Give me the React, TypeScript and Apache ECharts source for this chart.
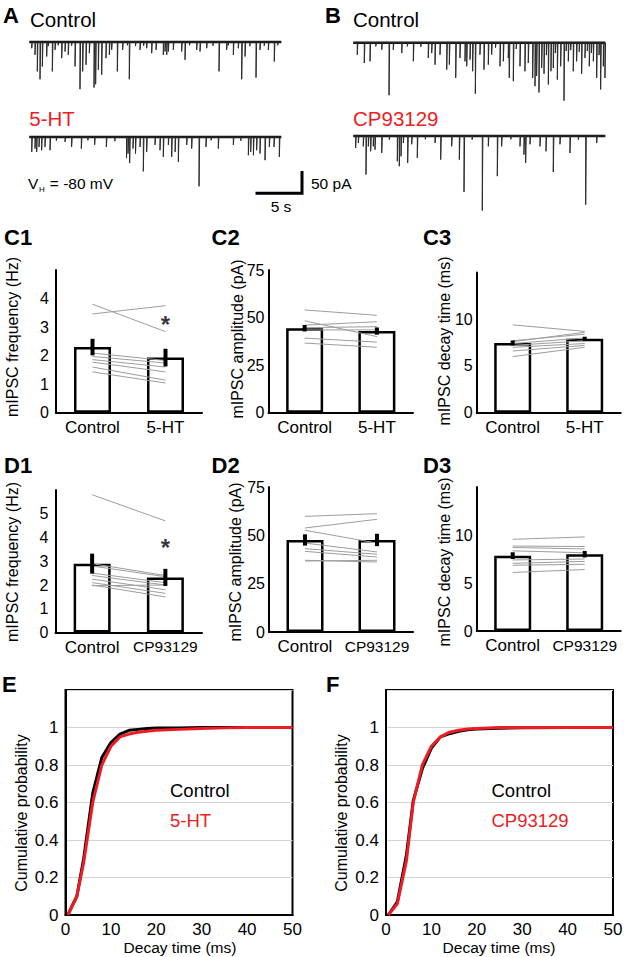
import React, { useEffect, useRef } from "react";
import * as echarts from "echarts";

const FONT = "'Liberation Sans', Arial, Helvetica, sans-serif";
const RED = "#ed1c24";

// ---------- Traces: spikes as [time (s), amplitude (pA)] ----------
const traceDuration = 28;
const spikesA1: number[][] = [
  [0.27, 15], [0.63, 31], [0.89, 71], [1.19, 90], [1.45, 59], [1.93, 35], [2.1, 10], [2.56, 71], [2.86, 19],
  [3.2, 8], [3.6, 39], [3.97, 23], [4.33, 31], [4.7, 9], [5.08, 59], [5.63, 114], [5.93, 71], [6.3, 55],
  [6.67, 27], [7.19, 110], [7.37, 102], [7.67, 67], [8.04, 79], [8.52, 39], [8.89, 31], [9.15, 19],
  [9.78, 71], [10.37, 19], [10.9, 8], [11.11, 90], [11.8, 10], [12.3, 19], [12.7, 9], [13.04, 15],
  [13.6, 27], [14.08, 19], [14.89, 31], [15.08, 23], [15.27, 31], [15.45, 23], [16.0, 19], [16.93, 23],
  [17.3, 43], [17.8, 8], [18.6, 19], [18.97, 23], [19.71, 15], [20.4, 9], [21.08, 71], [21.93, 19],
  [22.1, 8], [22.67, 31], [23.22, 15], [23.6, 90], [23.97, 35], [24.5, 10], [25.19, 86], [25.63, 19],
  [26.1, 9], [26.56, 19], [27.22, 47], [27.6, 8],
];
const spikesA2: number[][] = [
  [0.27, 36], [0.63, 28], [0.82, 36], [1.08, 24], [1.37, 32], [1.74, 24], [2.3, 32], [3.0, 9], [3.97, 12],
  [4.7, 24], [5.78, 28], [6.5, 8], [7.26, 19], [8.56, 24], [9.5, 10], [10.8, 51], [10.97, 40], [11.15, 63],
  [11.52, 28], [11.8, 40], [12.3, 24], [12.67, 83], [13.04, 36], [13.97, 19], [14.52, 32], [14.89, 48],
  [15.45, 19], [15.82, 48], [16.2, 36], [16.56, 60], [17.49, 19], [18.04, 28], [18.86, 119], [19.63, 24],
  [20.2, 8], [21.0, 28], [22.67, 19], [23.5, 9], [24.34, 44], [24.6, 36], [24.9, 44], [25.26, 32],
  [25.63, 40], [26.19, 56], [26.67, 24], [27.19, 24], [27.78, 48],
];
const spikesB1: number[][] = [
  [0.44, 29], [1.22, 49], [1.86, 45], [2.5, 9], [3.16, 17], [3.97, 127], [4.44, 17], [5.38, 25], [6.0, 9],
  [6.67, 45], [7.5, 10], [8.33, 37], [8.71, 25], [9.08, 53], [9.63, 29], [10.38, 65], [10.67, 53],
  [11.38, 85], [11.85, 37], [12.41, 45], [12.6, 57], [12.97, 41], [13.26, 69], [13.56, 123], [14.07, 29],
  [14.52, 65], [15.0, 53], [15.37, 29], [15.8, 12], [16.3, 57], [16.67, 45], [17.22, 37], [17.33, 85],
  [17.78, 93], [18.1, 15], [18.52, 57], [19.07, 69], [19.44, 49], [19.93, 85], [20.19, 105], [20.37, 80],
  [20.63, 120], [20.93, 61], [21.19, 75], [21.45, 30], [21.67, 101], [21.96, 69], [22.22, 61], [22.45, 25],
  [22.67, 89], [23.04, 57], [23.41, 140], [23.65, 20], [23.89, 45], [24.15, 18], [24.44, 69], [24.81, 45],
  [25.1, 22], [25.37, 75], [25.74, 37], [26.0, 20], [26.22, 57], [26.45, 25], [26.67, 45], [27.04, 85],
  [27.3, 30], [27.48, 113], [27.78, 57], [27.96, 85],
];
const spikesB2: number[][] = [
  [0.26, 29], [0.56, 17], [1.11, 25], [1.41, 93], [1.67, 25], [1.93, 37], [2.22, 25], [2.41, 33],
  [3.16, 41], [4.0, 9], [4.89, 61], [5.11, 73], [5.3, 49], [5.56, 17], [6.04, 65], [6.49, 20], [7.11, 53],
  [8.0, 8], [9.08, 17], [9.71, 57], [10.93, 25], [11.78, 57], [12.3, 135], [13.2, 9], [14.33, 180],
  [15.0, 25], [16.0, 97], [16.48, 25], [17.5, 8], [18.52, 25], [18.96, 45], [19.15, 65], [19.63, 20],
  [20.74, 25], [21.41, 37], [22.22, 87], [22.96, 20], [24.07, 41], [25.0, 9], [25.82, 166], [27.04, 17],
];
const scaleBarTime = 5; // s
const scaleBarCurrent = 50; // pA
const scaleBarCorner = [30.3, -136]; // data position of the bar corner (s, pA)

// ---------- Bar panels ----------
const cats5HT = ["Control", "5-HT"];
const catsCP = ["Control", "CP93129"];

const c1Mean = [2.3, 1.93];
const c1Sem = [0.29, 0.31];
const c1Pairs = [[3.8, 2.84], [3.46, 3.75], [2.09, 1.83], [1.97, 1.74], [1.86, 1.6], [1.77, 1.43], [1.6, 1.14], [1.43, 1.04]];

const c2Mean = [44.4, 42.9];
const c2Sem = [1.7, 1.9];
const c2Pairs = [[54, 51.2], [48.3, 40], [46, 47.8], [44.7, 45.2], [43.5, 43.5], [39.2, 37.1], [36.6, 34.4]];

const c3Mean = [7.46, 7.9];
const c3Sem = [0.27, 0.23];
const c3Pairs = [[9.4, 8.7], [7.7, 8.4], [7.4, 8.0], [7.2, 7.7], [7.0, 7.4], [6.6, 7.2], [6.0, 7.0], [7.6, 8.6]];

const d1Mean = [2.9, 2.32];
const d1Sem = [0.42, 0.36];
const d1Pairs = [[5.8, 4.7], [2.9, 2.4], [2.8, 2.35], [2.5, 2.1], [2.4, 2.0], [2.25, 1.8], [2.1, 1.65], [2.0, 1.5], [1.97, 2.0]];

const d2Mean = [47.6, 47.6];
const d2Sem = [2.9, 3.2];
const d2Pairs = [[59.8, 61.2], [53.8, 58.3], [52.6, 46.0], [46.0, 41.4], [43.1, 40.2], [41.7, 38.8], [37.1, 36.2], [36.7, 37.1]];

const d3Mean = [7.85, 8.0];
const d3Sem = [0.35, 0.34];
const d3Pairs = [[9.55, 9.8], [8.85, 8.8], [8.7, 8.55], [8.35, 8.15], [7.4, 7.5], [7.05, 7.25], [6.85, 6.95], [6.1, 6.4]];

const starC1 = 3.1;
const starD1 = 3.57;

// ---------- Cumulative distributions [decay time (ms), probability] ----------
const eControl = [[0.5, 0], [2.5, 0.1], [4, 0.3], [6, 0.65], [8, 0.84], [10, 0.92], [12, 0.965], [14, 0.985], [16, 0.99], [18, 0.995], [20, 0.997], [25, 0.998], [30, 1], [40, 1], [50, 1]];
const e5HT = [[0.5, 0], [2.5, 0.1], [4, 0.28], [6, 0.6], [8, 0.8], [10, 0.9], [12, 0.95], [14, 0.965], [16, 0.975], [18, 0.98], [20, 0.985], [25, 0.99], [30, 0.995], [35, 0.998], [40, 1], [50, 1]];
const fControl = [[0.5, 0], [2.5, 0.07], [4.5, 0.32], [6, 0.61], [8, 0.78], [10, 0.89], [12, 0.95], [14, 0.967], [16, 0.98], [18, 0.988], [20, 0.992], [25, 0.996], [30, 0.998], [40, 1], [50, 1]];
const fCP = [[0.5, 0], [2.5, 0.06], [4.5, 0.29], [6, 0.6], [8, 0.8], [10, 0.9], [12, 0.95], [14, 0.975], [16, 0.985], [18, 0.992], [20, 0.995], [25, 1], [50, 1]];
const cdfXTicks = 10;

function traceData(spikes: number[][]) {
  const sorted = [...spikes].sort((a, b) => a[0] - b[0]);
  const d: number[][] = [[0, 0]];
  for (const [t, a] of sorted) {
    d.push([t, 0], [t, -a], [t + 0.07, 0]);
  }
  d.push([traceDuration, 0]);
  return d;
}

function buildOption() {
  const grid: any[] = [];
  const xAxis: any[] = [];
  const yAxis: any[] = [];
  const series: any[] = [];

  // --- trace grids ---
  const pxS = 9;
  const pxPA = 0.414;
  const traces = [
    { spikes: spikesA1, left: 29.3, base: 42, xmax: 32, ymin: -150 },
    { spikes: spikesA2, left: 29.3, base: 137, xmax: 32, ymin: -150 },
    { spikes: spikesB1, left: 353.3, base: 42.7, xmax: 28, ymin: -150 },
    { spikes: spikesB2, left: 353.3, base: 136, xmax: 28, ymin: -190 },
  ];
  const ymax = 15;
  traces.forEach((tr, i) => {
    grid.push({ left: tr.left, top: tr.base - ymax * pxPA, width: tr.xmax * pxS, height: (ymax - tr.ymin) * pxPA, outerBoundsMode: "none" });
    xAxis.push({ type: "value", gridIndex: i, min: 0, max: tr.xmax, show: false });
    yAxis.push({ type: "value", gridIndex: i, min: tr.ymin, max: ymax, show: false });
    series.push({
      type: "line", xAxisIndex: i, yAxisIndex: i, data: [[0, 0], [traceDuration, 0]],
      symbol: "none", lineStyle: { color: "#111", width: 2.6 }, silent: true, z: 2,
    });
    series.push({
      type: "line", xAxisIndex: i, yAxisIndex: i, data: traceData(tr.spikes),
      symbol: "none", lineStyle: { color: "#2a2a2a", width: 1 }, silent: true, z: 3,
    });
  });
  // scale bar on A2 grid
  series.push({
    type: "line", xAxisIndex: 1, yAxisIndex: 1,
    data: [
      [scaleBarCorner[0] - scaleBarTime, scaleBarCorner[1]],
      [scaleBarCorner[0], scaleBarCorner[1]],
      [scaleBarCorner[0], scaleBarCorner[1] + scaleBarCurrent],
    ],
    symbol: "none", lineStyle: { color: "#000", width: 3, cap: "square", join: "miter" }, silent: true,
  });

  // --- bar panels ---
  const panels = [
    { left: 56, top: 270, bottom: 412.7, width: 146, cats: cats5HT, mean: c1Mean, sem: c1Sem, pairs: c1Pairs, max: 5, interval: 1, hideTop: true, margin: 7, star: starC1 },
    { left: 268.5, top: 270, bottom: 412.7, width: 144.5, cats: cats5HT, mean: c2Mean, sem: c2Sem, pairs: c2Pairs, max: 75, interval: 25, hideTop: false, margin: 4 },
    { left: 476.7, top: 272.5, bottom: 412.7, width: 144, cats: cats5HT, mean: c3Mean, sem: c3Sem, pairs: c3Pairs, max: 15, interval: 5, hideTop: true, margin: 4 },
    { left: 55.5, top: 490, bottom: 632.5, width: 146.5, cats: catsCP, mean: d1Mean, sem: d1Sem, pairs: d1Pairs, max: 6, interval: 1, hideTop: true, margin: 7, star: starD1 },
    { left: 269, top: 487, bottom: 632, width: 144, cats: catsCP, mean: d2Mean, sem: d2Sem, pairs: d2Pairs, max: 75, interval: 25, hideTop: false, margin: 4 },
    { left: 476.7, top: 487, bottom: 631, width: 144, cats: catsCP, mean: d3Mean, sem: d3Sem, pairs: d3Pairs, max: 15, interval: 5, hideTop: true, margin: 4 },
  ];
  panels.forEach((p, k) => {
    const gi = 4 + k;
    grid.push({ left: p.left, top: p.top, width: p.width, height: p.bottom - p.top, outerBoundsMode: "none" });
    xAxis.push({
      type: "category", gridIndex: gi, data: p.cats,
      axisLine: { show: true, onZero: false, lineStyle: { color: "#000", width: 2 } },
      axisTick: { show: false },
      axisLabel: {
        color: "#000", fontSize: 17, margin: 6, fontFamily: FONT, interval: 0,
        formatter: (v: string) => (v === "CP93129" ? "{s|" + v + "}" : v),
        rich: { s: { fontSize: 15.5, color: "#000", fontFamily: FONT } },
      },
    });
    yAxis.push({
      type: "value", gridIndex: gi, min: 0, max: p.max, interval: p.interval,
      axisLine: { show: true, lineStyle: { color: "#000", width: 2 } },
      axisTick: { show: false }, splitLine: { show: false },
      axisLabel: {
        color: "#000", fontSize: 16, margin: p.margin, fontFamily: FONT,
        formatter: (v: number) => (p.hideTop && v >= p.max ? "" : String(v)),
      },
    });
    series.push({
      type: "bar", xAxisIndex: gi, yAxisIndex: gi, data: p.mean, barWidth: 37,
      itemStyle: { color: "#fff", borderColor: "#000", borderWidth: 2.5 }, silent: true, z: 2,
    });
    p.pairs.forEach((pair) => {
      series.push({
        type: "line", xAxisIndex: gi, yAxisIndex: gi, data: pair, symbol: "none",
        lineStyle: { color: "#9d9d9d", width: 1 }, silent: true, z: 3,
      });
    });
    series.push({
      type: "custom", xAxisIndex: gi, yAxisIndex: gi,
      data: p.mean.map((m, i) => [i, m - p.sem[i], m + p.sem[i]]),
      encode: { x: 0, y: [1, 2] },
      renderItem: (params: any, api: any) => {
        const a = api.coord([api.value(0), api.value(1)]);
        const b = api.coord([api.value(0), api.value(2)]);
        return { type: "line", shape: { x1: a[0], y1: a[1], x2: b[0], y2: b[1] }, style: { stroke: "#000", lineWidth: 4 } };
      },
      silent: true, z: 4,
    });
    if (p.star !== undefined) {
      series.push({
        type: "scatter", xAxisIndex: gi, yAxisIndex: gi, data: [[1, p.star]],
        symbolSize: 1, itemStyle: { color: "rgba(0,0,0,0)" },
        label: { show: true, position: "inside", formatter: "*", fontSize: 24, fontWeight: "bold", color: "#000", fontFamily: FONT },
        silent: true, z: 5,
      });
    }
  });

  // --- CDF panels ---
  const cdfs = [
    { left: 65.5, ctrl: eControl, drug: e5HT },
    { left: 386, ctrl: fControl, drug: fCP },
  ];
  cdfs.forEach((c, k) => {
    const gi = 10 + k;
    grid.push({ left: c.left, top: 690, width: 227, height: 225, show: true, borderColor: "#000", borderWidth: 2, backgroundColor: "#fff", outerBoundsMode: "none" });
    xAxis.push({
      type: "value", gridIndex: gi, min: 0, max: 50, interval: cdfXTicks,
      axisLine: { show: true, onZero: false, lineStyle: { color: "#000", width: 2 } },
      axisTick: { show: false }, splitLine: { show: false },
      axisLabel: { color: "#000", fontSize: 17, margin: 6, fontFamily: FONT },
    });
    yAxis.push({
      type: "value", gridIndex: gi, min: 0, max: 1.2, interval: 0.2,
      axisLine: { show: true, lineStyle: { color: "#000", width: 2 } },
      axisTick: { show: false },
      splitLine: { show: true, lineStyle: { color: "#d4d4d4", width: 1 } },
      axisLabel: {
        color: "#000", fontSize: 17, margin: 7, fontFamily: FONT,
        formatter: (v: number) => (v > 1.01 ? "" : String(Math.round(v * 10) / 10)),
      },
    });
    series.push({
      type: "line", xAxisIndex: gi, yAxisIndex: gi, data: c.ctrl, symbol: "none",
      lineStyle: { color: "#000", width: 3 }, silent: true, z: 3,
    });
    series.push({
      type: "line", xAxisIndex: gi, yAxisIndex: gi, data: c.drug, symbol: "none",
      lineStyle: { color: RED, width: 3 }, silent: true, z: 4,
    });
  });

  const t = (x: number, y: number, text: string, o: any = {}) => ({
    type: "text", x, y, rotation: o.rotation || 0, silent: true, z: 100,
    style: {
      text, fill: o.fill || "#000", fontSize: o.fontSize || 16, fontWeight: o.fontWeight || "normal",
      fontFamily: FONT, align: o.align || "left", verticalAlign: "middle",
    },
  });
  const bold = { fontSize: 22, fontWeight: "bold" };
  const rot = { rotation: Math.PI / 2, align: "center", fontSize: 16 };
  const graphic = [
    t(3, 15, "A", bold),
    t(30, 19, "Control", { fontSize: 20.5 }),
    t(29.3, 118, "5-HT", { fontSize: 20.5, fill: RED }),
    t(325, 15, "B", bold),
    t(353, 19, "Control", { fontSize: 20.5 }),
    t(353, 118, "CP93129", { fontSize: 20.5, fill: RED }),
    t(28, 183.5, "V", { fontSize: 15.5 }),
    t(39, 189, "H", { fontSize: 8 }),
    t(45.5, 183.5, " = -80 mV", { fontSize: 15.5 }),
    t(311, 183, "50 pA", { fontSize: 15.5 }),
    t(281, 206, "5 s", { fontSize: 15.5, align: "center" }),
    t(4, 237, "C1", bold),
    t(211.5, 237, "C2", bold),
    t(423, 237, "C3", bold),
    t(4, 465, "D1", bold),
    t(211.5, 465, "D2", bold),
    t(423, 465, "D3", bold),
    t(2, 684, "E", bold),
    t(326, 684, "F", bold),
    t(12, 337, "mIPSC frequency (Hz)", rot),
    t(237, 339, "mIPSC amplitude (pA)", rot),
    t(444, 341, "mIPSC decay time (ms)", rot),
    t(12, 562, "mIPSC frequency (Hz)", rot),
    t(235, 562, "mIPSC amplitude (pA)", rot),
    t(444, 562, "mIPSC decay time (ms)", rot),
    t(21.5, 813, "Cumulative probability", rot),
    t(341.5, 813, "Cumulative probability", rot),
    t(180, 947, "Decay time (ms)", { fontSize: 15.5, align: "center" }),
    t(499, 947, "Decay time (ms)", { fontSize: 15.5, align: "center" }),
    t(170, 790, "Control", { fontSize: 18.5 }),
    t(170, 820, "5-HT", { fontSize: 18.5, fill: RED }),
    t(491.5, 790, "Control", { fontSize: 18.5 }),
    t(491.5, 820, "CP93129", { fontSize: 18.5, fill: RED }),
  ];

  return {
    animation: false,
    backgroundColor: "#fff",
    textStyle: { fontFamily: FONT },
    grid, xAxis, yAxis, series,
    graphic: { elements: graphic },
  };
}

export default function App() {
  const ref = useRef<HTMLDivElement>(null);
  useEffect(() => {
    document.body.style.margin = "0";
    if (!ref.current) return;
    const chart = echarts.init(ref.current, undefined, { renderer: "svg" });
    chart.setOption(buildOption() as any);
    return () => chart.dispose();
  }, []);
  return <div ref={ref} style={{ width: 625, height: 957 }} />;
}
